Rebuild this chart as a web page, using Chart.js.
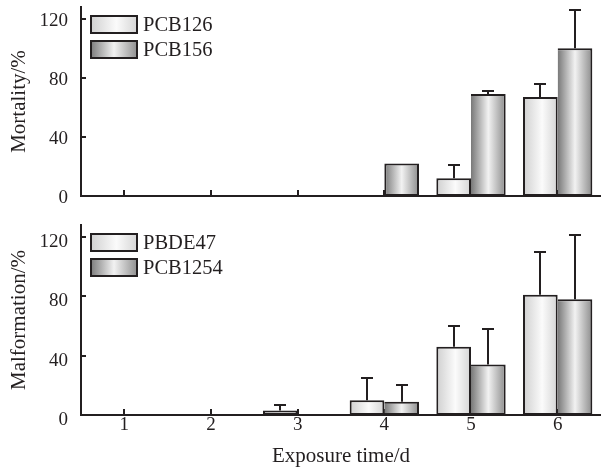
<!DOCTYPE html>
<html>
<head>
<meta charset="utf-8">
<title>Mortality and malformation</title>
<script src="https://cdn.jsdelivr.net/npm/chart.js@4.4.0/dist/chart.umd.min.js"></script>
<style>
  body { margin: 0; background: #fff; }
  #wrap { position: relative; width: 601px; height: 469px; }
  .panel { position: absolute; left: 0; width: 601px; }
</style>
</head>
<body>
<div id="wrap">
  <div class="panel" style="top:0;height:210px"><canvas id="mortalityChart"></canvas></div>
  <div class="panel" style="top:210px;height:259px"><canvas id="malformChart"></canvas></div>
</div>
<script>
// ── DATA
const days = ["1", "2", "3", "4", "5", "6"];
const yTicks = [0, 40, 80, 120];

const pcb126 = [0, 0, 0, 0, 12, 67];
const pcb126Err = [0, 0, 0, 0, 9, 9];
const pcb156 = [0, 0, 0, 22, 69, 100];
const pcb156Err = [0, 0, 0, 0, 2, 26];

const pbde47 = [0, 0, 3, 10, 46, 81];
const pbde47Err = [0, 0, 4, 15, 14, 29];
const pcb1254 = [0, 0, 0, 9, 34, 78];
const pcb1254Err = [0, 0, 0, 11, 24, 43];

// ── STYLE
const ink = "#231f20";
const lightShade = [[0, "#cfcfcf"], [0.55, "#fbfbfb"], [1, "#d4d4d4"]];
const darkShade = [[0, "#787878"], [0.5, "#f2f2f2"], [1, "#8c8c8c"]];
const serif = '"Liberation Serif", "Times New Roman", serif';

Chart.defaults.font.family = serif;
Chart.defaults.color = ink;

function barGradient(ctx, x0, x1, stops) {
  const g = ctx.createLinearGradient(x0, 0, x1, 0);
  stops.forEach(([pos, col]) => g.addColorStop(pos, col));
  return g;
}

// bars get a horizontal metallic shade, built on each bar's own width
const shadePlugin = {
  id: "shade",
  beforeDatasetsDraw(chart) {
    chart.data.datasets.forEach((ds, i) => {
      chart.getDatasetMeta(i).data.forEach((bar) => {
        const half = bar.width / 2;
        bar.options.backgroundColor = barGradient(chart.ctx, bar.x - half, bar.x + half, ds.shade);
      });
    });
  }
};

// tick marks point into the plot
const inwardTicks = {
  id: "inwardTicks",
  beforeDatasetsDraw(chart) {
    const { ctx, chartArea, scales: { x, y } } = chart;
    ctx.save();
    ctx.strokeStyle = ink;
    ctx.lineWidth = 2;
    ctx.beginPath();
    x.ticks.forEach((t, i) => {
      const px = Math.round(x.getPixelForTick(i));
      ctx.moveTo(px, chartArea.bottom);
      ctx.lineTo(px, chartArea.bottom - 6);
    });
    y.ticks.forEach((t, i) => {
      if (!t.value) return;
      const py = Math.round(y.getPixelForTick(i));
      ctx.moveTo(chartArea.left, py);
      ctx.lineTo(chartArea.left + 5, py);
    });
    ctx.stroke();
    ctx.restore();
  }
};

// upper error bars with caps
const errorBars = {
  id: "errorBars",
  afterDatasetsDraw(chart) {
    const { ctx, scales: { y } } = chart;
    ctx.save();
    ctx.strokeStyle = ink;
    ctx.lineWidth = 2;
    chart.data.datasets.forEach((ds, i) => {
      chart.getDatasetMeta(i).data.forEach((bar, j) => {
        const err = ds.errors[j];
        if (!err) return;
        const px = Math.round(bar.x);
        const top = Math.round(y.getPixelForValue(ds.data[j] + err));
        ctx.beginPath();
        ctx.moveTo(px, bar.y);
        ctx.lineTo(px, top);
        ctx.moveTo(px - 6, top);
        ctx.lineTo(px + 6, top);
        ctx.stroke();
      });
    });
    ctx.restore();
  }
};

// legend drawn inside the plot, top-left, with the same shaded boxes
const boxLegend = {
  id: "boxLegend",
  afterDraw(chart) {
    const { ctx, chartArea } = chart;
    ctx.save();
    chart.data.datasets.forEach((ds, i) => {
      const bx = chartArea.left + 9;
      const by = chartArea.top + 8 + i * 25;
      ctx.fillStyle = barGradient(ctx, bx, bx + 48, ds.shade);
      ctx.fillRect(bx, by, 48, 19);
      ctx.strokeStyle = ink;
      ctx.lineWidth = 2;
      ctx.strokeRect(bx + 1, by + 1, 46, 17);
      ctx.fillStyle = ink;
      ctx.font = "20.5px " + serif;
      ctx.textBaseline = "middle";
      ctx.fillText(ds.label, bx + 53, by + 10.5);
    });
    ctx.restore();
  }
};

function makeDatasets(names, values, errs) {
  return [
    {
      label: names[0],
      data: values[0],
      errors: errs[0],
      shade: lightShade,
      backgroundColor: () => "#e8e8e8",
      borderColor: ink,
      borderWidth: 2,
      borderSkipped: false
    },
    {
      label: names[1],
      data: values[1],
      errors: errs[1],
      shade: darkShade,
      backgroundColor: () => "#b0b0b0",
      borderColor: ink,
      // share the middle line with the neighbouring bar when it is there
      borderWidth: (c) => ({ top: 2, right: 2, bottom: 2, left: values[0][c.dataIndex] > 0 ? 0 : 2 }),
      borderSkipped: false
    }
  ];
}

function makeChart(id, opts) {
  return new Chart(document.getElementById(id), {
    type: "bar",
    data: { labels: days, datasets: opts.datasets },
    plugins: [shadePlugin, inwardTicks, errorBars, boxLegend],
    options: {
      responsive: true,
      maintainAspectRatio: false,
      devicePixelRatio: 1,
      animation: false,
      events: [],
      layout: { padding: { top: opts.top, left: 0, right: 0, bottom: 0 } },
      datasets: { bar: { categoryPercentage: 0.8, barPercentage: 1.0 } },
      plugins: { legend: { display: false }, tooltip: { enabled: false } },
      scales: {
        x: {
          grid: { display: false, drawTicks: false },
          border: { display: true, width: 2, color: ink },
          ticks: { display: opts.showX, padding: -1, font: { size: 19 } },
          title: {
            display: !!opts.xTitle,
            text: opts.xTitle || "",
            font: { size: 21 },
            padding: { top: 0, bottom: 0 }
          },
          afterFit: (s) => {
            s.height = opts.xHeight;
            s.paddingLeft = 0;
            s.paddingRight = 0;
          }
        },
        y: {
          min: 0,
          max: 128,
          afterBuildTicks: (s) => {
            s.ticks = yTicks.map((v) => ({ value: v }));
          },
          grid: { display: false, drawTicks: false },
          border: { display: true, width: 2, color: ink },
          ticks: { padding: 13, labelOffset: opts.labelOffset, font: { size: 19 } },
          title: {
            display: true,
            text: opts.yTitle,
            font: { size: 21 },
            padding: { top: 7, bottom: 0 }
          },
          afterFit: (s) => {
            s.width = 81;
            s.paddingTop = 0;
            s.paddingBottom = 0;
          }
        }
      }
    }
  });
}

// ── MORTALITY PANEL
makeChart("mortalityChart", {
  datasets: makeDatasets(["PCB126", "PCB156"], [pcb126, pcb156], [pcb126Err, pcb156Err]),
  yTitle: "Mortality/%",
  showX: false,
  top: 7,
  xHeight: 14,
  labelOffset: 2
});

// ── MALFORMATION PANEL
makeChart("malformChart", {
  datasets: makeDatasets(["PBDE47", "PCB1254"], [pbde47, pcb1254], [pbde47Err, pcb1254Err]),
  yTitle: "Malformation/%",
  xTitle: "Exposure time/d",
  showX: true,
  top: 15,
  xHeight: 54,
  labelOffset: 5
});
</script>
</body>
</html>
